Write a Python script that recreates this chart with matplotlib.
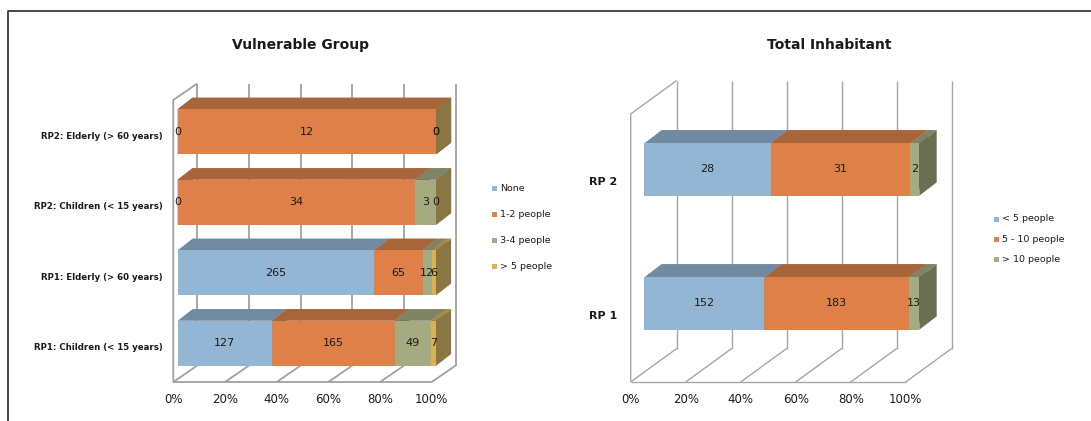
import matplotlib
matplotlib.use("Agg")
import matplotlib.pyplot as plt
from matplotlib.patches import Polygon, Rectangle
from matplotlib.lines import Line2D

W, H, DPI = 1091, 421, 100

# ---- Vulnerable group: households per category ----
vg_categories = ["RP1: Children (< 15 years)", "RP1: Elderly (> 60 years)",
                 "RP2: Children (< 15 years)", "RP2: Elderly (> 60 years)"]
vg_series = ["None", "1-2 people", "3-4 people", "> 5 people"]
vg_none = [127, 265, 0, 0]
vg_1_2 = [165, 65, 34, 12]
vg_3_4 = [49, 12, 3, 0]
vg_gt5 = [7, 6, 0, 0]

# ---- Total inhabitant per household ----
ti_categories = ["RP 1", "RP 2"]
ti_series = ["< 5 people", "5 - 10 people", "> 10 people"]
ti_lt5 = [152, 28]
ti_5_10 = [183, 31]
ti_gt10 = [13, 2]

pct_ticks = [0, 20, 40, 60, 80, 100]
pct_labels = ["0%", "20%", "40%", "60%", "80%", "100%"]

# (front, top, side) shades for each series
BLUE = ("#93B6D5", "#718AA2", "#5E7387")
ORANGE = ("#DE8048", "#A9653A", "#8E5530")
OLIVE = ("#A5AB81", "#7F8466", "#6B6F51")
GOLD = ("#DAB153", "#A88B45", "#8A7643")

FONT = "DejaVu Sans"
TXT = "#1a1a1a"

fig = plt.figure(figsize=(W / DPI, H / DPI), dpi=DPI)


def px_axes(left, right, bottom, top):
    return fig.add_axes([left / W, bottom / H, (right - left) / W, (top - bottom) / H])


def draw_3d_stack(ax, categories, columns, faces, geom):
    sx, sy = geom["sx"], geom["sy"]
    wdx, wdy = geom["wall"][0] / sx, geom["wall"][1] / sy
    ox, oy = geom["off"][0] / sx, geom["off"][1] / sy
    bdx, bdy = geom["depth"][0] / sx, geom["depth"][1] / sy
    bh = geom["bar_h"] / sy
    n = len(categories)
    y0, y1 = -0.5, n - 0.5
    ax.set_xlim(0, 100)
    ax.set_ylim(y0, y1)

    # floor, back wall and side wall
    grid = dict(color=geom["grid_c"], lw=geom["grid_lw"], clip_on=False,
                zorder=1, solid_capstyle="butt")
    for t in pct_ticks:
        ax.plot([t, t + wdx], [y0, y0 + wdy], **grid)
        ax.plot([t + wdx, t + wdx], [y0 + wdy, y1 + wdy], **grid)
    ax.plot([0, 100], [y0, y0], **grid)
    ax.plot([0, 0, wdx], [y0, y1, y1 + wdy], **grid)

    totals = [sum(col[i] for col in columns) for i in range(n)]
    for i in range(n):
        yc = i + oy
        yb, yt = yc - bh / 2, yc + bh / 2
        left = ox
        for col, (front, top, side) in zip(columns, faces):
            pct = col[i] / totals[i] * 100
            x0, x1 = left, left + pct
            ax.add_patch(Polygon([(x1, yb), (x1, yt), (x1 + bdx, yt + bdy), (x1 + bdx, yb + bdy)],
                                 closed=True, facecolor=side, edgecolor="none",
                                 zorder=3, clip_on=False))
            ax.add_patch(Polygon([(x0, yt), (x1, yt), (x1 + bdx, yt + bdy), (x0 + bdx, yt + bdy)],
                                 closed=True, facecolor=top, edgecolor="none",
                                 zorder=3, clip_on=False))
            ax.barh(yc, pct, left=x0, height=bh, color=front, zorder=3, clip_on=False)
            ax.text((x0 + x1) / 2, yc, str(col[i]), ha="center", va="center",
                    fontsize=geom["val_fs"], color=TXT, family=FONT, zorder=6)
            left = x1

    ax.set_xticks(pct_ticks)
    ax.set_xticklabels(pct_labels, fontsize=8.5, color=TXT, family=FONT)
    ax.set_yticks(range(n))
    ax.set_yticklabels(categories, fontsize=geom["cat_fs"], fontweight="bold",
                       color=TXT, family=FONT)
    ax.tick_params(axis="x", length=0, pad=geom["xpad"])
    ax.tick_params(axis="y", length=0, pad=geom["ypad"])
    for s in ax.spines.values():
        s.set_visible(False)
    ax.patch.set_visible(False)


def legend(series, faces, x_marker, x_text, y_tops, fs):
    for name, face, yt in zip(series, faces, y_tops):
        fy = 1 - yt / H
        fig.add_artist(Rectangle(((x_marker - 2.5) / W, fy - 2.5 / H), 5 / W, 5 / H,
                                 transform=fig.transFigure, facecolor=face[0],
                                 edgecolor="none"))
        fig.text(x_text / W, fy, name, ha="left", va="center", fontsize=fs,
                 color=TXT, family=FONT)


# ---- left chart ----
ax1 = px_axes(173.3, 431.7, 39, 321)
draw_3d_stack(ax1, vg_categories, [vg_none, vg_1_2, vg_3_4, vg_gt5],
              [BLUE, ORANGE, OLIVE, GOLD],
              dict(sx=2.584, sy=70.5, wall=(24, 16.5), off=(4.4, 3.5),
                   depth=(15, 11.7), bar_h=45, grid_c="#A0A0A0", grid_lw=1.3,
                   val_fs=8, cat_fs=6.2, xpad=8, ypad=7.5))
legend(vg_series, [BLUE, ORANGE, OLIVE, GOLD], 494.5, 500,
       [188.3, 214.3, 240.7, 266.7], 6.8)
fig.text(300.5 / W, 1 - 45 / H, "Vulnerable Group", ha="center", va="center",
         fontsize=10, fontweight="bold", color=TXT, family=FONT)

# ---- right chart ----
ax2 = px_axes(630.7, 905.7, 39, 307)
draw_3d_stack(ax2, ti_categories, [ti_lt5, ti_5_10, ti_gt10],
              [BLUE, ORANGE, OLIVE],
              dict(sx=2.75, sy=134, wall=(46, 33.5), off=(13.6, 11.5),
                   depth=(17.4, 13.3), bar_h=52.3, grid_c="#A6A6A6", grid_lw=1.0,
                   val_fs=8, cat_fs=8, xpad=8, ypad=9.5))
legend(ti_series, [BLUE, ORANGE, OLIVE], 996, 1002, [219, 239.3, 259.7], 6.8)
fig.text(829.5 / W, 1 - 45 / H, "Total Inhabitant", ha="center", va="center",
         fontsize=10, fontweight="bold", color=TXT, family=FONT)

# outer frame (left and top edges)
fig.add_artist(Line2D([7.9 / W, 7.9 / W, 1.0], [0, 1 - 11 / H, 1 - 11 / H],
                      transform=fig.transFigure, color="#3a3a3a", lw=1.3))

fig.savefig("out.png", dpi=DPI)
